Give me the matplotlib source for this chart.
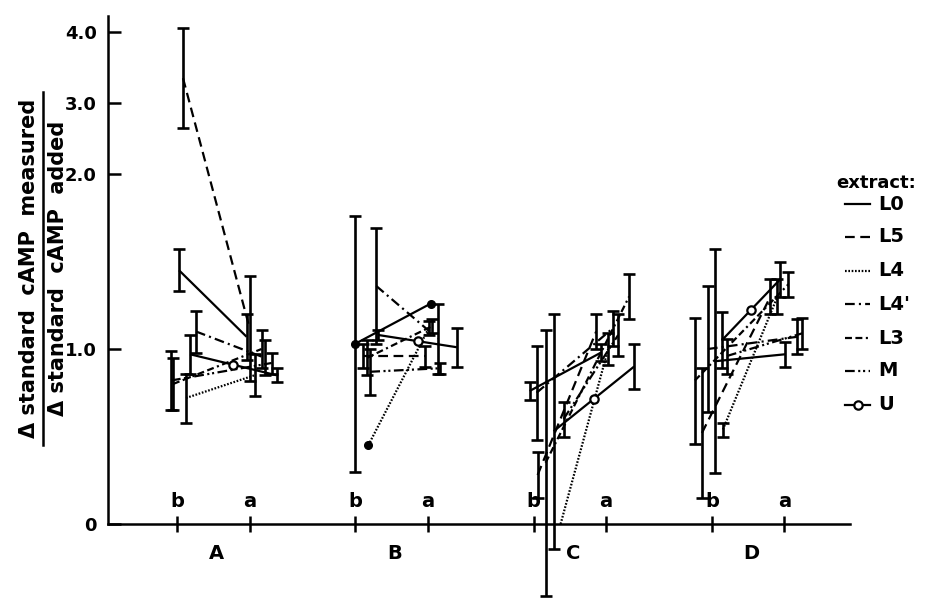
import numpy as np
import matplotlib
matplotlib.use("Agg")
import matplotlib.pyplot as plt

plt.rcParams['font.family'] = ['DejaVu Sans']
plt.rcParams['font.weight'] = 'bold'
plt.rcParams['lines.scale_dashes'] = False

groups = ["A", "B", "C", "D"]
extracts = ["L0", "L5", "L4", "L4'", "L3", "M", "U"]

# ratio before (b) and after (a), one row per extract, columns A..D
before_mean = [
    [1.45, 1.03, 0.76, 0.93],
    [3.35, 0.96, 0.28, 0.52],
    [0.72, 0.45, 0.00, 0.54],
    [1.10, 1.36, 0.75, 1.00],
    [0.80, 0.95, 0.35, 0.82],
    [0.82, 0.87, 0.60, 0.96],
    [0.97, 1.08, 0.53, 1.05],
]
before_err = [
    [0.12, 0.73, 0.05, 0.64],
    [0.70, 0.07, 0.13, 0.37],
    [0.14, 0.00, 0.00, 0.04],
    [0.12, 0.33, 0.27, 0.36],
    [0.15, 0.10, 0.76, 0.36],
    [0.17, 0.13, 0.10, 0.10],
    [0.11, 0.03, 0.67, 0.16],
]
after_mean = [
    [1.07, 1.26, 0.98, 0.97],
    [1.12, 0.96, 1.10, 1.30],
    [0.85, 1.12, 1.00, 1.30],
    [0.95, 1.06, 1.12, 1.07],
    [1.00, 1.13, 1.30, 1.37],
    [0.92, 0.89, 1.08, 1.09],
    [0.85, 1.01, 0.90, 1.40],
]
after_err = [
    [0.13, 0.00, 0.05, 0.07],
    [0.30, 0.06, 0.10, 0.10],
    [0.12, 0.04, 0.09, 0.10],
    [0.10, 0.20, 0.10, 0.10],
    [0.11, 0.04, 0.13, 0.07],
    [0.06, 0.03, 0.12, 0.09],
    [0.04, 0.11, 0.13, 0.10],
]
# points drawn as filled dots (extract, group)
dot_points_b = [("L0", "B"), ("L4", "B")]
dot_points_a = [("L0", "B")]

# layout: horizontal shifts in pixels from the b / a tick of each group
off_b = [
    [2, 0, -4, 3],
    [6, 8, 4, -10],
    [9, 13, 27, 11],
    [19, 21, 3, -4],
    [-4, 12, 12, -17],
    [-6, 15, 30, 15],
    [13, 23, 20, 10],
]
off_a = [
    [-3, 3, -5, 1],
    [0, -3, -10, -14],
    [5, 1, 2, -7],
    [15, 10, 7, 13],
    [12, 4, 23, 4],
    [22, 12, 12, 18],
    [27, 29, 28, -4],
]

styles = {
    "L0": None,
    "L5": (0, (7, 4)),
    "L4": (0, (1.2, 1.2)),
    "L4'": (0, (7, 3, 1.5, 3)),
    "L3": (0, (5, 2.5, 5, 2.5, 1.5, 2.5)),
    "M": (0, (7, 2.5, 1.5, 2, 1.5, 2.5)),
    "U": None,
}

PX = 178.3       # pixels per group step
A_SHIFT = 0.407  # a tick relative to b tick


def fwd(v):
    v = np.asarray(v, dtype=float)
    return np.where(v <= 2, v * 175.0, 350.0 + (v - 2) * 71.0)


def inv(h):
    h = np.asarray(h, dtype=float)
    return np.where(h <= 350, h / 175.0, 2 + (h - 350) / 71.0)


fig = plt.figure(figsize=(9.46, 6.02), dpi=100)
ytop, ybot = 4.23, -0.45
hpx = float(fwd(ytop) - fwd(ybot))
bottom_px = 524 + float(-fwd(ybot))
ax = fig.add_axes([108 / 946, (602 - bottom_px) / 602, 742 / 946, hpx / 602])
ax.set_yscale('function', functions=(fwd, inv))
ax.set_ylim(ybot, ytop)
ax.set_xlim((108 - 177) / PX, (850 - 177) / PX)

lw = 1.6
for i, ex in enumerate(extracts):
    dash = styles[ex]
    for j, g in enumerate(groups):
        xb = j + off_b[i][j] / PX
        xa = j + A_SHIFT + off_a[i][j] / PX
        yb = before_mean[i][j]
        ya = after_mean[i][j]
        kw = dict(color='black', lw=lw, clip_on=False, solid_capstyle='butt')
        if dash is not None:
            kw['linestyle'] = dash
        ax.plot([xb, xa], [yb, ya], **kw)
        for x, y, e in [(xb, yb, before_err[i][j]), (xa, ya, after_err[i][j])]:
            if e > 0:
                ax.errorbar([x], [y], yerr=[e], fmt='none', ecolor='black',
                            elinewidth=1.9, capsize=4, capthick=1.9, clip_on=False)
        if ex == "U":
            ax.plot([(xb + xa) / 2], [(yb + ya) / 2], 'o', ms=6, mfc='white',
                    mec='black', mew=1.6, zorder=5)
        if (ex, g) in dot_points_b:
            ax.plot([xb], [yb], 'o', ms=5.5, color='black', zorder=5)
        if (ex, g) in dot_points_a:
            ax.plot([xa], [ya], 'o', ms=5.5, color='black', zorder=5)

for s in ['top', 'right']:
    ax.spines[s].set_visible(False)
ax.spines['left'].set_bounds(0, ytop)
ax.spines['bottom'].set_position(('data', 0))
ax.spines['left'].set_linewidth(1.8)
ax.spines['bottom'].set_linewidth(1.8)

yticks = [0, 1, 2, 3, 4]
ylabels = ["0", "1.0", "2.0", "3.0", "4.0"]
ax.set_yticks(yticks)
ax.set_yticklabels(ylabels)
ax.tick_params(axis='y', direction='in', length=9, width=1.8, labelsize=13, pad=8)

xt = []
for j in range(len(groups)):
    xt += [j, j + A_SHIFT]
ax.set_xticks(xt)
ax.set_xticklabels([])
ax.tick_params(axis='x', direction='inout', length=11, width=1.8)

for j, g in enumerate(groups):
    ax.text(j, 0.13, "b", ha='center', va='center', fontsize=14)
    ax.text(j + A_SHIFT, 0.13, "a", ha='center', va='center', fontsize=14)
    ax.text(j + A_SHIFT / 2 + 3 / PX, -0.17, g, ha='center', va='center', fontsize=14)

# y label as a fraction
fig.text(29 / 946, 1 - 268 / 602, "Δ standard  cAMP  measured", rotation=90,
         ha='center', va='center', fontsize=15)
fig.text(58 / 946, 1 - 268 / 602, "Δ standard  cAMP  added", rotation=90,
         ha='center', va='center', fontsize=15)

lax = fig.add_axes([0, 0, 1, 1], facecolor='none')
lax.set_xlim(0, 946)
lax.set_ylim(602, 0)
lax.axis('off')
lax.plot([43, 43], [92, 445], color='black', lw=1.8)

lax.text(876, 183, "extract:", ha='center', va='center', fontsize=13)
rows = [204, 237, 271, 304, 338, 371, 405]
for ex, yy in zip(extracts, rows):
    dash = styles[ex]
    kw = dict(color='black', lw=lw)
    if dash is not None:
        kw['linestyle'] = dash
    lax.plot([845, 870], [yy, yy], **kw)
    if ex == "U":
        lax.plot([857.5], [yy], 'o', ms=6, mfc='white', mec='black', mew=1.6)
    lax.text(878, yy, ex, ha='left', va='center', fontsize=14)

fig.savefig("out.png", dpi=100, facecolor='white')
